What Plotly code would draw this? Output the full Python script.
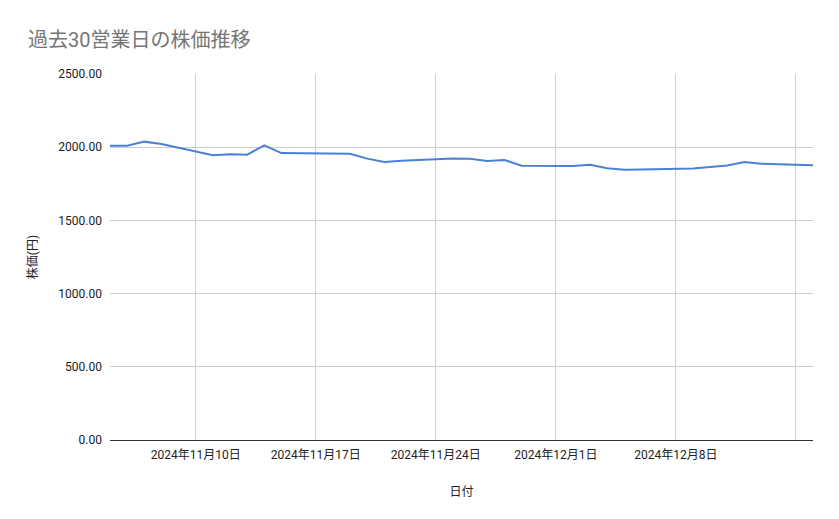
import plotly.graph_objects as go
import pandas as pd

dates = [
    "2024-11-05", "2024-11-06", "2024-11-07", "2024-11-08",
    "2024-11-11", "2024-11-12", "2024-11-13", "2024-11-14", "2024-11-15",
    "2024-11-18", "2024-11-19", "2024-11-20", "2024-11-21", "2024-11-22",
    "2024-11-25", "2024-11-26", "2024-11-27", "2024-11-28", "2024-11-29",
    "2024-12-02", "2024-12-03", "2024-12-04", "2024-12-05", "2024-12-06",
    "2024-12-09", "2024-12-10", "2024-12-11", "2024-12-12", "2024-12-13",
    "2024-12-16",
]
prices = [
    2010, 2010, 2038, 2022,
    1945, 1952, 1949, 2013, 1960,
    1957, 1955, 1922, 1899, 1908,
    1922, 1921, 1906, 1913, 1874,
    1872, 1880, 1856, 1846, 1847,
    1855, 1864, 1875, 1899, 1887,
    1876,
]
tick_dates = ["2024-11-10", "2024-11-17", "2024-11-24", "2024-12-01", "2024-12-08", "2024-12-15"]
show_tick_label = [True, True, True, True, True, False]

tick_text = []
for d, show in zip(tick_dates, show_tick_label):
    t = pd.Timestamp(d)
    tick_text.append(f"{t.year}年{t.month}月{t.day}日" if show else "")

font_family = "Roboto, 'Noto Sans CJK JP', sans-serif"

# page body has an 8px margin; figure sized to fit the 839x519 window
W, H = 831, 511

fig = go.Figure()
fig.add_trace(go.Scatter(
    x=dates, y=prices, mode="lines",
    line=dict(color="#4a80d9", width=2),
    hoverinfo="x+y",
))

fig.update_layout(
    width=W, height=H,
    margin=dict(l=102, r=26, t=66, b=79),
    paper_bgcolor="white", plot_bgcolor="white",
    font=dict(family=font_family, size=12, color="#222222"),
    title=dict(
        text="過去30営業日の株価推移",
        x=20 / W, xanchor="left", xref="container",
        y=1 - 32 / H, yanchor="middle", yref="container",
        font=dict(size=20, color="#757575", family=font_family),
    ),
    showlegend=False,
)

fig.update_xaxes(
    type="date",
    range=["2024-11-05", "2024-12-16"],
    tickvals=tick_dates, ticktext=tick_text,
    showgrid=True, gridcolor="#cccccc", gridwidth=1,
    showline=True, linecolor="#333333", linewidth=1,
    ticks="", ticklabelstandoff=4, tickfont=dict(size=12, color="#222222"),
    title=dict(text="日付", font=dict(size=12, color="#222222"), standoff=26),
    zeroline=False,
)
fig.update_yaxes(
    range=[0, 2500], dtick=500, tick0=0,
    tickformat=".2f",
    showgrid=True, gridcolor="#cccccc", gridwidth=1,
    zeroline=False, showline=False,
    ticks="", ticklabelstandoff=7, tickfont=dict(size=12, color="#222222"),
    title=dict(text="株価(円)", font=dict(size=12, color="#222222"), standoff=18),
)

fig.write_html("out.html")
